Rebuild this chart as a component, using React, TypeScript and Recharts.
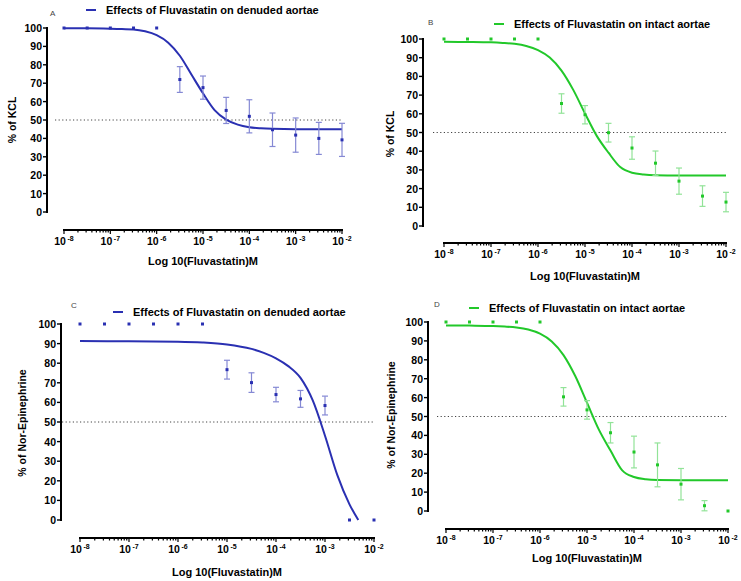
import React from 'react';
import { ComposedChart, Line, Scatter, ErrorBar, XAxis, YAxis, ReferenceLine } from 'recharts';

const FONT = '"Liberation Sans", Arial, Helvetica, sans-serif';

// log10 of the molar fluvastatin dose for each measured point
const doses = [-8, -7.5, -7, -6.5, -6, -5.5, -5, -4.5, -4, -3.5, -3, -2.5, -2];

// A: KCL, denuded
const kclDenudedMean = [100, 100, 100, 100, 100, 72, 67.6, 55.2, 52, 44.7, 41.8, 40, 39.2];
const kclDenudedSem = [0, 0, 0, 0, 0, 7, 6.3, 7.1, 9, 9.1, 9.3, 8.7, 9];
// B: KCL, intact
const kclIntactMean = [100, 100, 100, 100, 100, 65.5, 59.5, 49.9, 41.7, 33.6, 24, 16, 12.8];
const kclIntactSem = [0, 0, 0, 0, 0, 5.2, 4.9, 5, 6, 6.5, 7, 5.5, 5.2];
// C: nor-epinephrine, denuded
const neDenudedMean = [100, 100, 100, 100, 100, 100, 76.7, 70.1, 64, 61.8, 58.4, 0, 0];
const neDenudedSem = [0, 0, 0, 0, 0, 0, 4.8, 5, 3.7, 4.3, 4.8, 0, 0];
// D: nor-epinephrine, intact
const neIntactMean = [100, 100, 100, 100, 100, 60.4, 53.5, 41.4, 31.2, 24.4, 14.2, 2.8, 0];
const neIntactSem = [0, 0, 0, 0, 0, 4.9, 4.9, 5.4, 8.4, 11.6, 8.3, 2.7, 0];

// fitted curves
const fitX = [-8, -7.5, -7, -6.75, -6.5, -6.25, -6, -5.75, -5.5, -5.25, -5, -4.75, -4.5, -4.25, -4, -3.75, -3.5, -3, -2.5, -2];
const kclDenudedFit = [99.8, 99.8, 99.6, 99.4, 99.2, 98.2, 96.1, 92, 84.9, 74.7, 64.5, 55.4, 50.2, 47.5, 46.1, 45.5, 45.2, 45, 45, 45];
const kclIntactFit = [98.5, 98.4, 98.2, 97.9, 97.4, 96.3, 94.1, 90.1, 83.1, 72.8, 60.2, 48.2, 39.2, 31.5, 28.5, 27.6, 27.2, 27, 27, 27];
const neIntactFit = [98.2, 98.1, 97.9, 97.6, 97.1, 96, 93.8, 89.7, 82.5, 71.4, 57.3, 43.2, 32, 21.5, 18, 16.8, 16.4, 16.3, 16.3, 16.3];
const neDenudedFitX = [-8, -7, -6, -5.5, -5, -4.5, -4.25, -4, -3.75, -3.5, -3.25, -3, -2.75, -2.5, -2.32];
const neDenudedFit = [91.3, 91.2, 91, 90.6, 89.6, 87.3, 85.3, 82.5, 78.5, 72.5, 61, 43, 23, 8, 0];

const majorTicks = [-8, -7, -6, -5, -4, -3, -2];
const minorTicks = majorTicks.slice(0, -1).flatMap((n) => [2, 3, 4, 5, 6, 7, 8, 9].map((k) => n + Math.log10(k)));
const yTicks = [0, 10, 20, 30, 40, 50, 60, 70, 80, 90, 100];

const BLUE = '#2a30b2';
const BLUE_BAR = '#8589d4';
const GREEN = '#22c82a';
const GREEN_BAR = '#92e398';

const PAD = 6;
const Y_W = 30;
const X_H = 30;

function LogTick(props: any) {
  const { x, y, payload } = props;
  const v = payload.value;
  const major = Math.abs(v - Math.round(v)) < 1e-9;
  return (
    <g>
      <line x1={x} x2={x} y1={y} y2={y + (major ? 4 : 2.5)} stroke="#000" strokeWidth={1.2} />
      {major && (
        <text x={x} y={y + 15} textAnchor="middle" fontFamily={FONT} fontWeight={700} fontSize={10.5} fill="#000">
          10<tspan dx={1.5} dy={-4} fontSize={7}>{String(Math.round(v))}</tspan>
        </text>
      )}
    </g>
  );
}

function PctTick(props: any) {
  const { x, y, payload } = props;
  return (
    <g>
      <line x1={x - 4} x2={x} y1={y} y2={y} stroke="#000" strokeWidth={1.4} />
      <text x={x - 5} y={y} textAnchor="end" dominantBaseline="central" fontFamily={FONT} fontWeight={700} fontSize={10.5} fill="#000">
        {payload.value}
      </text>
    </g>
  );
}

function AxisTitle(props: any) {
  const { tx, ty, text, vertical } = props;
  return (
    <text
      x={tx}
      y={ty}
      transform={vertical ? `rotate(-90 ${tx} ${ty})` : undefined}
      textAnchor="middle"
      dominantBaseline="central"
      fontFamily={FONT}
      fontWeight={700}
      fontSize={vertical ? 10.5 : 11}
      fill="#000"
    >
      {text}
    </text>
  );
}

function Square(props: any) {
  const { cx, cy, fill } = props;
  return <rect x={cx - 1.5} y={cy - 1.5} width={3} height={3} fill={fill} />;
}

function Panel(p: any) {
  const g = p.geo;
  const perDec = (g.x2 - g.x8) / 6;
  const perUnit = (g.y0 - g.y100) / 100;
  const xMin = -8 - (g.x8 - g.axisX) / perDec;
  const xMax = -2 + PAD / perDec;
  const yMin = -(g.axisY - g.y0) / perUnit;
  const yMax = 100 + PAD / perUnit;
  const margin = {
    left: g.axisX - g.left - Y_W,
    top: g.y100 - PAD - g.top,
    right: g.left + g.width - (g.x2 + PAD),
    bottom: g.top + g.height - g.axisY - X_H,
  };

  const points = doses.map((x, i) => ({ x, y: p.means[i], err: p.sems[i] }));
  const plain = points.filter((d) => !d.err);
  const withErr = points.filter((d) => d.err);
  const fit = p.fitX.map((x: number, i: number) => ({ x, y: p.fitY[i] }));
  const dotStart = xMin + (p.dotGap || 0) / perDec;

  return (
    <>
      <div style={{ position: 'absolute', left: g.left, top: g.top }}>
        <ComposedChart width={g.width} height={g.height} margin={margin}>
          <XAxis
            type="number"
            dataKey="x"
            domain={[xMin, xMax]}
            allowDataOverflow
            ticks={[...majorTicks, ...minorTicks]}
            interval={0}
            tick={<LogTick />}
            tickLine={false}
            tickSize={0}
            tickMargin={0}
            axisLine={false}
            height={X_H}
            label={<AxisTitle tx={p.xTitle[0] - g.left} ty={p.xTitle[1] - g.top} text="Log 10(Fluvastatin)M" />}
          />
          <YAxis
            type="number"
            dataKey="y"
            domain={[yMin, yMax]}
            allowDataOverflow
            ticks={yTicks}
            interval={0}
            width={Y_W}
            axisLine={false}
            tickLine={false}
            tickSize={0}
            tickMargin={0}
            tick={<PctTick />}
            label={<AxisTitle tx={p.yTitle[0] - g.left} ty={p.yTitle[1] - g.top} text={p.yLabel} vertical />}
          />
          <ReferenceLine
            segment={[{ x: dotStart, y: 50 }, { x: -2, y: 50 }]}
            stroke="#444"
            strokeWidth={1}
            strokeDasharray="1.2 2.4"
            ifOverflow="visible"
          />
          <Line data={fit} dataKey="y" type="monotone" stroke={p.color} strokeWidth={2} dot={false} isAnimationActive={false} />
          <Scatter data={plain} dataKey="y" fill={p.color} shape={<Square />} isAnimationActive={false} />
          <Scatter data={withErr} dataKey="y" fill={p.color} shape={<Square />} isAnimationActive={false}>
            <ErrorBar dataKey="err" direction="y" width={3} stroke={p.barColor} strokeWidth={1.2} isAnimationActive={false} />
          </Scatter>
        </ComposedChart>
      </div>
      {/* Prism-style detached axis lines */}
      <div style={{ position: 'absolute', left: g.axisX - 1, top: g.y100 - 1, width: 2, height: g.y0 - g.y100 + 2, background: '#000' }} />
      <div style={{ position: 'absolute', left: g.x8 - 1, top: g.axisY - 1, width: g.x2 - g.x8 + 2, height: 2, background: '#000' }} />
      <div style={{ position: 'absolute', left: p.letter[1], top: p.letter[2], fontFamily: FONT, fontSize: 8, color: '#444', lineHeight: '8px' }}>
        {p.letter[0]}
      </div>
      <div
        style={{
          position: 'absolute',
          left: p.legend[0],
          top: p.legend[1] - 7,
          height: 14,
          display: 'flex',
          alignItems: 'center',
          fontFamily: FONT,
          fontWeight: 700,
          fontSize: 11,
          color: '#000',
          whiteSpace: 'nowrap',
        }}
      >
        <span style={{ display: 'inline-block', width: 10, height: 2, background: p.color, marginRight: 10 }} />
        {p.legendText}
      </div>
    </>
  );
}

export default function App() {
  return (
    <div style={{ position: 'absolute', left: 0, top: 0, width: 741, height: 581, background: '#fff', overflow: 'hidden' }}>
      <Panel
        geo={{ left: 0, top: 0, width: 370, height: 290, axisX: 47, x8: 64, x2: 342, y100: 28, y0: 212, axisY: 230 }}
        means={kclDenudedMean}
        sems={kclDenudedSem}
        fitX={fitX}
        fitY={kclDenudedFit}
        color={BLUE}
        barColor={BLUE_BAR}
        yLabel="% of KCL"
        yTitle={[12, 120]}
        xTitle={[203, 261]}
        letter={['A', 50, 10]}
        legend={[86, 10]}
        dotGap={8}
        legendText="Effects of Fluvastatin on denuded aortae"
      />
      <Panel
        geo={{ left: 370, top: 0, width: 371, height: 290, axisX: 423, x8: 444, x2: 726, y100: 39, y0: 226, axisY: 243 }}
        means={kclIntactMean}
        sems={kclIntactSem}
        fitX={fitX}
        fitY={kclIntactFit}
        color={GREEN}
        barColor={GREEN_BAR}
        yLabel="% of KCL"
        yTitle={[390, 134]}
        xTitle={[585, 276]}
        letter={['B', 428, 19]}
        legend={[494, 24]}
        dotGap={10}
        legendText="Effects of Fluvastatin on intact aortae"
      />
      <Panel
        geo={{ left: 0, top: 290, width: 390, height: 291, axisX: 61, x8: 80, x2: 374, y100: 324, y0: 520, axisY: 538 }}
        means={neDenudedMean}
        sems={neDenudedSem}
        fitX={neDenudedFitX}
        fitY={neDenudedFit}
        color={BLUE}
        barColor={BLUE_BAR}
        yLabel="% of Nor-Epinephrine"
        yTitle={[22, 423]}
        xTitle={[227, 572]}
        letter={['C', 71, 302]}
        legend={[113, 312]}
        dotGap={1}
        legendText="Effects of Fluvastatin on denuded aortae"
      />
      <Panel
        geo={{ left: 370, top: 290, width: 371, height: 291, axisX: 428, x8: 446, x2: 728, y100: 322, y0: 511, axisY: 529 }}
        means={neIntactMean}
        sems={neIntactSem}
        fitX={fitX}
        fitY={neIntactFit}
        color={GREEN}
        barColor={GREEN_BAR}
        yLabel="% of Nor-Epinephrine"
        yTitle={[391, 415]}
        xTitle={[587, 558]}
        letter={['D', 434, 301]}
        legend={[469, 308]}
        dotGap={9}
        legendText="Effects of Fluvastatin on intact aortae"
      />
    </div>
  );
}
